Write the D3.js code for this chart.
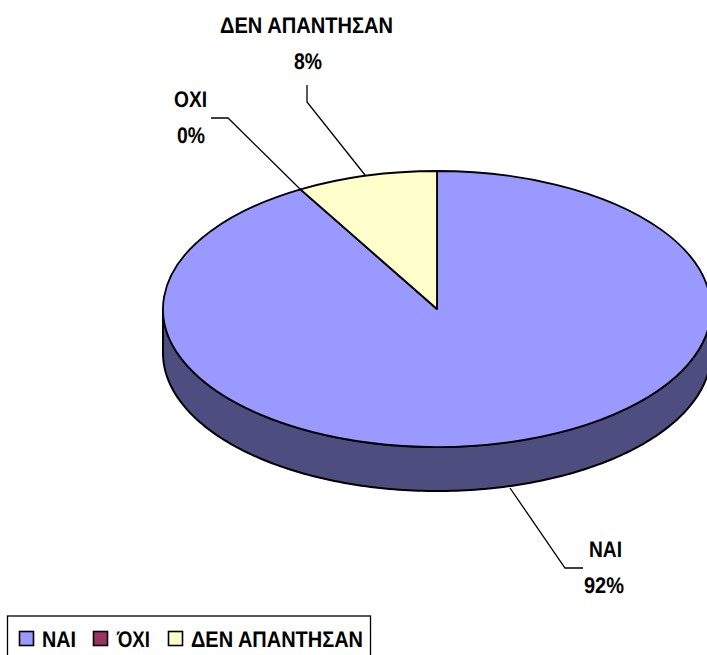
<!DOCTYPE html>
<html>
<head>
<meta charset="utf-8">
<script src="https://cdn.jsdelivr.net/npm/d3@7"></script>
<style>
  body { margin: 0; background: #fff; }
  svg { display: block; }
  text { font-family: "Liberation Sans", Arial, sans-serif; font-weight: bold; fill: #000; }
</style>
</head>
<body>
<div id="chart"></div>
<script>
var categories = ["ΝΑΙ", "ΟΧΙ", "ΔΕΝ ΑΠΑΝΤΗΣΑΝ"];
var legendNames = ["ΝΑΙ", "ΌΧΙ", "ΔΕΝ ΑΠΑΝΤΗΣΑΝ"];
var values = [91.7, 0, 8.3];
var percentLabels = ["92%", "0%", "8%"];
var colors = ["#9999ff", "#993366", "#ffffcc"];
var sideColor = "#4d4d80";

var svgWidth = 707;
var svgHeight = 655;

// pie ellipse, flattened 3d look
var cx = 437, cy = 309, rx = 274, ry = 138, depth = 44;

var svg = d3.select("#chart")
  .append("svg")
  .attr("width", svgWidth)
  .attr("height", svgHeight);

var pie = d3.pie().sort(null).value(d => d);
var slices = pie(values);

var arc = d3.arc().innerRadius(0).outerRadius(rx);

// Side wall, only the front half of the ellipse shows
var frontAngles = d3.range(90, 270.5, 1).map(d => d * Math.PI / 180);
var topEdge = frontAngles.map(a => [cx + rx * Math.sin(a), cy - ry * Math.cos(a)]);
var bottomEdge = frontAngles.slice().reverse().map(a => [cx + rx * Math.sin(a), cy + depth - ry * Math.cos(a)]);

svg.append("path")
  .attr("d", d3.line()(topEdge.concat(bottomEdge)) + "Z")
  .attr("fill", sideColor)
  .attr("stroke", "#000")
  .attr("stroke-width", 2)
  .attr("stroke-linejoin", "round");

// Top face
svg.append("g")
  .attr("transform", `translate(${cx}, ${cy}) scale(1, ${ry / rx})`)
  .selectAll("path")
  .data(slices)
  .enter()
  .append("path")
  .attr("d", arc)
  .attr("fill", (d, i) => colors[i])
  .attr("stroke", "#000")
  .attr("stroke-width", 1.8)
  .attr("stroke-linejoin", "round")
  .attr("vector-effect", "non-scaling-stroke");

// Leader lines
var leaders = [
  [[510, 488], [565, 568], [583, 568]],
  [[300, 189], [228, 118], [211, 118]],
  [[365, 175], [307, 102], [307, 85]]
];
svg.selectAll(".leader")
  .data(leaders)
  .enter()
  .append("path")
  .attr("class", "leader")
  .attr("d", d3.line())
  .attr("fill", "none")
  .attr("stroke", "#000")
  .attr("stroke-width", 1.3);

// text squeezed to the narrow look of the original
function label(str, x, y, width) {
  var t = svg.append("text")
    .attr("font-size", "22.5px")
    .attr("text-rendering", "geometricPrecision")
    .text(str);
  var sx = width / t.node().getComputedTextLength();
  t.attr("transform", `translate(${x}, ${y}) scale(${sx}, 1)`);
}

var labelPos = [
  { name: [589, 557, 33], pct: [584, 593, 40] },
  { name: [174, 107, 33], pct: [177, 143, 28] },
  { name: [220, 33, 173], pct: [294, 69, 28] }
];
categories.forEach(function(c, i) {
  label(c, labelPos[i].name[0], labelPos[i].name[1], labelPos[i].name[2]);
  label(percentLabels[i], labelPos[i].pct[0], labelPos[i].pct[1], labelPos[i].pct[2]);
});

// Legend
svg.append("rect")
  .attr("x", 7.5)
  .attr("y", 616)
  .attr("width", 363)
  .attr("height", 45)
  .attr("fill", "#fff")
  .attr("stroke", "#000")
  .attr("stroke-width", 1.3);

var legendX = [19, 93, 168];
var legendTextX = [42, 117, 191];
var legendTextW = [34, 33, 172];
legendNames.forEach(function(c, i) {
  svg.append("rect")
    .attr("x", legendX[i] + 0.5)
    .attr("y", 631.5)
    .attr("width", 14)
    .attr("height", 14)
    .attr("fill", colors[i])
    .attr("stroke", "#000")
    .attr("stroke-width", 1.6);
  label(c, legendTextX[i], 646.5, legendTextW[i]);
});
</script>
</body>
</html>
